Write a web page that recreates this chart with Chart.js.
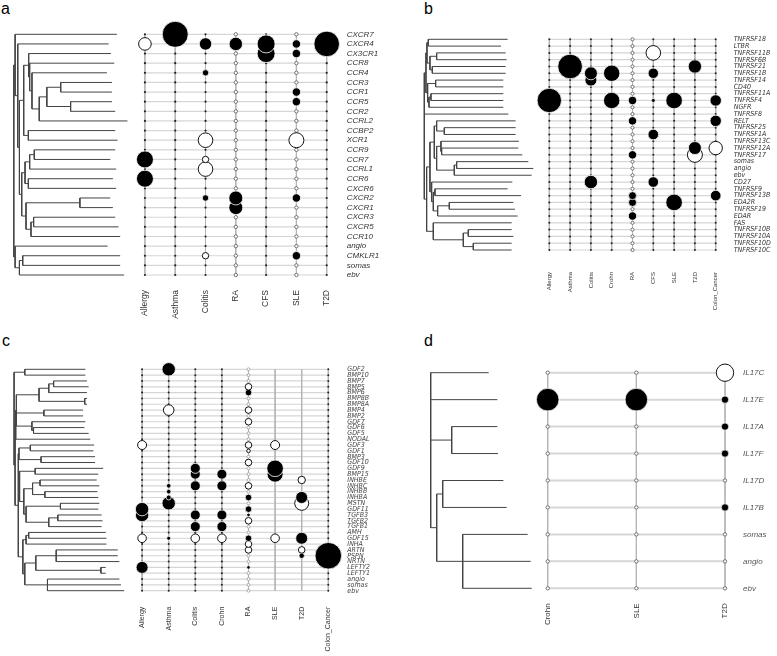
<!DOCTYPE html>
<html>
<head>
<meta charset="utf-8">
<script src="https://cdn.jsdelivr.net/npm/chart.js@4.4.0/dist/chart.umd.min.js"></script>
<style>
  body { margin: 0; background: #fff; width: 777px; height: 656px; position: relative; overflow: hidden; font-family: "Liberation Sans", Arial, sans-serif; }
  .panel { position: absolute; }
  .tag { position: absolute; font-size: 16px; line-height: 16px; color: #000; }
</style>
</head>
<body>
<div class="tag" style="left:1px;top:1px">a</div>
<div class="tag" style="left:424px;top:1px">b</div>
<div class="tag" style="left:2px;top:333px">c</div>
<div class="tag" style="left:424px;top:333px">d</div>
<div class="panel" style="left:0;top:0"><canvas id="pa" width="388" height="328"></canvas></div>
<div class="panel" style="left:388px;top:0"><canvas id="pb" width="389" height="328"></canvas></div>
<div class="panel" style="left:0;top:328px"><canvas id="pc" width="388" height="328"></canvas></div>
<div class="panel" style="left:388px;top:328px"><canvas id="pd" width="389" height="328"></canvas></div>
<script>
// ---- panel a: chemokine receptors
const colsA = ['Allergy','Asthma','Colitis','RA','CFS','SLE','T2D'];
const rowsA = ['CXCR7','CXCR4','CX3CR1','CCR8','CCR4','CCR3','CCR1','CCR5','CCR2','CCRL2','CCBP2','XCR1','CCR9','CCR7','CCRL1','CCR6','CXCR6','CXCR2','CXCR1','CXCR3','CXCR5','CCR10','angio','CMKLR1','somas','ebv'];
const baseA = ['dot','dot','dot','ring','dot','ring','dot'];
const sigA = [
  ['CXCR7','Asthma',13],
  ['CXCR4','Allergy',-6.3],['CXCR4','Colitis',6.2],['CXCR4','RA',6.7],['CXCR4','CFS',9],['CXCR4','SLE',4.2],['CXCR4','T2D',12.8],
  ['CX3CR1','CFS',9],['CX3CR1','SLE',4.2],
  ['CCR4','Colitis',3.2],
  ['CCR1','SLE',4.2],['CCR5','SLE',4.2],
  ['XCR1','Colitis',-7.3],['XCR1','SLE',-7.5],
  ['CCR7','Allergy',8.5],['CCR7','Colitis',-3.2],
  ['CCRL1','Colitis',-7.3],
  ['CCR6','Allergy',8.5],
  ['CXCR2','Colitis',3.2],['CXCR2','RA',7],['CXCR2','SLE',4.2],
  ['CXCR1','RA',7],
  ['CMKLR1','Colitis',-3.2],['CMKLR1','SLE',4.2]
];
// tree: [height, children...], leaves are tip heights in row order
const treeA = [18,
  [22, 330, [30, 305, [35,
    [48, [63, 312, [66, 322, [73, 300, [95, [118, [160, 315, 315], [190, 315, 325]], 362]]]], [62, 325, 332]],
    [42, [52, [66, [80, 325, 310], 328], [62, 318, 328]], [55, [218, 310, 318], [70, [78, 325, 335], 340]]]]]],
  [22, 302, [35, [45, 340, 340], 352]]];

// ---- panel b: TNF receptors
const colsB = ['Allergy','Asthma','Colitis','Crohn','RA','CFS','SLE','T2D','Colon_Cancer'];
const rowsB = ['TNFRSF18','LTBR','TNFRSF11B','TNFRSF6B','TNFRSF21','TNFRSF1B','TNFRSF14','CD40','TNFRSF11A','TNFRSF4','NGFR','TNFRSF8','RELT','TNFRSF25','TNFRSF1A','TNFRSF13C','TNFRSF12A','TNFRSF17','somas','angio','ebv','CD27','TNFRSF9','TNFRSF13B','EDA2R','TNFRSF19','EDAR','FAS','TNFRSF10B','TNFRSF10A','TNFRSF10D','TNFRSF10C'];
const baseB = ['dot','dot','dot','dot','ring','dot','dot','dot','dot'];
const sigB = [
  ['TNFRSF11B','CFS',-7.3],
  ['TNFRSF21','Asthma',12.3],['TNFRSF21','T2D',6.7],
  ['TNFRSF1B','Colitis',6.5],['TNFRSF1B','Crohn',8.2],['TNFRSF1B','CFS',5.2],
  ['TNFRSF14','Colitis',6],
  ['TNFRSF4','Allergy',12.2],['TNFRSF4','Crohn',8.2],['TNFRSF4','RA',4.2],['TNFRSF4','CFS',2],['TNFRSF4','SLE',8.3],['TNFRSF4','Colon_Cancer',5.7],
  ['RELT','RA',4.2],['RELT','Colon_Cancer',5.7],
  ['TNFRSF1A','CFS',5.3],
  ['TNFRSF12A','T2D',6.5],['TNFRSF12A','Colon_Cancer',-6.7],
  ['TNFRSF17','T2D',-7.5],['TNFRSF17','RA',4.2],
  ['CD27','Colitis',6.7],['CD27','CFS',5.3],
  ['TNFRSF13B','RA',4],['TNFRSF13B','Colon_Cancer',5.3],
  ['EDA2R','RA',4],['EDA2R','SLE',8.3],
  ['EDAR','RA',4.2]
];
const treeB = [28,
  [33, [36, [40, 278, 258], [45, [65, 272, 275], [52, 272, 272]]], [38, [62, 265, 265], [42, [48, 265, 265], 265]]],
  280,
  [35,
    [45,
      [58, [65, 302, [88, 302, 302]], [65, [78, 312, [80, 310, 322]], [118, [125, 340, 355], 350]]],
      [50, 292, [55, [60, 278, 318], [68, [103, 295, 300], 308]]]],
    [55, 290, [145, [160, 290, 295], [175, 290, 290]]]]];

// ---- panel c: TGF-beta family
const colsC = ['Allergy','Asthma','Colitis','Crohn','RA','SLE','T2D','Colon_Cancer'];
const rowsC = ['GDF2','BMP10','BMP7','BMP5','BMP6','BMP8B','BMP8A','BMP4','BMP2','GDF7','GDF6','GDF5','NODAL','GDF3','GDF1','BMP3','GDF10','GDF9','BMP15','INHBE','INHBC','INHBB','INHBA','MSTN','GDF11','TGFB3','TGFB2','TGFB1','AMH','GDF15','INHA','ARTN','PSPN','NRTN','LEFTY2','LEFTY1','angio','somas','ebv'];
const baseC = ['dot','dot','dot','dot','ring','none','none','dot'];
const sigC = [
  ['GDF2','Asthma',6.7],
  ['BMP5','RA',-3.3],['BMP6','RA',3.3],
  ['BMP4','Asthma',-5.3],['BMP4','RA',-3.3],
  ['GDF7','RA',-3.3],
  ['GDF3','Allergy',-4.5],['GDF3','RA',-3.3],['GDF3','SLE',-4.5],
  ['GDF1','RA',-1.8],
  ['GDF10','RA',-3.3],
  ['GDF9','Colitis',5],['GDF9','SLE',8.3],
  ['BMP15','Colitis',5],['BMP15','Crohn',5],['BMP15','SLE',8],
  ['INHBE','T2D',-3.7],
  ['INHBC','Colitis',5],['INHBC','Crohn',5],['INHBC','Asthma',2.3],['INHBC','RA',-3.3],
  ['INHBB','Asthma',2.3],
  ['INHBA','Asthma',2.5],['INHBA','RA',3.3],['INHBA','T2D',6],
  ['MSTN','Asthma',6.7],['MSTN','T2D',-7],
  ['GDF11','Allergy',6.7],['GDF11','RA',3.3],
  ['TGFB3','Allergy',6.7],['TGFB3','RA',1.8],['TGFB3','Colitis',5],['TGFB3','Crohn',5],
  ['TGFB2','RA',-3.3],
  ['TGFB1','Colitis',5],['TGFB1','Crohn',5],
  ['GDF15','Allergy',-4.3],['GDF15','Asthma',2],['GDF15','Colitis',-4.3],['GDF15','Crohn',-4.3],['GDF15','RA',3.3],['GDF15','SLE',-4.3],['GDF15','T2D',6],
  ['INHA','RA',-3.3],
  ['ARTN','RA',-3.3],['ARTN','T2D',-3.3],
  ['PSPN','T2D',2.7],['PSPN','Colon_Cancer',13.3],
  ['LEFTY2','Allergy',6],['LEFTY2','RA',1.8]
];
const treeC = [15,
  [48, 235, 235],
  [18,
    [20, [22, [92, [122, [137, 240, 245], 240], [233, 240, 240]], [107, 228, 228], [70, 235, [75, 232, 245]]], 250],
    [28,
      [30, [65, 262, 260], [98, 265, 265]],
      [32, [80, 290, 275], [45, [72, [95, 270, 278], [110, 272, 275]], [52, [158, 278, 275], [122, [150, 285, 288], 285]]]],
      [42, [52, [60, 298, 300], 300], [48, [82, [145, 335, 335, 340], [283, 298, 298]], [118, 340, 345, 355]]]]]];

// ---- panel d: IL17 family
const colsD = ['Crohn','SLE','T2D'];
const rowsD = ['IL17C','IL17E','IL17A','IL17F','IL17D','IL17B','somas','angio','ebv'];
const baseD = ['ring','ring','ring'];
const sigD = [
  ['IL17C','T2D',-8.7],
  ['IL17E','Crohn',11.3],['IL17E','SLE',11.3],['IL17E','T2D',3.7],
  ['IL17A','T2D',3.7],['IL17F','T2D',3.7],['IL17B','T2D',3.7]
];
const treeD = [122, 296, 322, [185, 322, 324], [140, [158, 340, 350], [218, 413, 422, 425]]];

const sans = '"Liberation Sans", Arial, sans-serif';
const narrow = '"Liberation Sans Narrow", "Arial Narrow", "DejaVu Sans Condensed", "Liberation Sans", sans-serif';

function treeSegs(node, state, segs) {
  if (typeof node === 'number') {
    return { x: node, y: state.leaf++ };
  }
  const h = node[0];
  const kids = node.slice(1).map(k => treeSegs(k, state, segs));
  kids.forEach(k => segs.push({x: h, y: k.y}, {x: k.x, y: k.y}, {x: h, y: null}));
  const y0 = kids[0].y, y1 = kids[kids.length - 1].y;
  segs.push({x: h, y: y0}, {x: h, y: y1}, {x: h, y: null});
  return { x: h, y: (y0 + y1) / 2 };
}

function buildPanel(id, rows, cols, base, sig, tree, lay) {
  const canvas = document.getElementById(id);
  const W = canvas.width, H = canvas.height;
  const nR = rows.length, nC = cols.length;
  const step = (lay.R - lay.col0) / (nC - 1);
  const xmin = -(lay.col0 - lay.L) / step;

  const taken = new Set(sig.map(s => rows.indexOf(s[0]) + ':' + cols.indexOf(s[1])));
  const big = sig.map(s => ({ x: cols.indexOf(s[1]), y: rows.indexOf(s[0]), r: Math.abs(s[2]), v: s[2] }))
    .sort((p, q) => q.y - p.y);
  const dots = [], rings = [];
  rows.forEach((_, r) => cols.forEach((_, c) => {
    if (taken.has(r + ':' + c)) return;
    if (base[c] === 'dot') dots.push({ x: c, y: r, r: lay.dot });
    else if (base[c] === 'ring') rings.push({ x: c, y: r, r: lay.ring });
  }));

  const hLines = [], vLines = [];
  rows.forEach((_, r) => hLines.push({x: 0, y: r}, {x: nC - 1, y: r}, {x: 0, y: null}));
  cols.forEach((_, c) => vLines.push({x: c, y: 0}, {x: c, y: nR - 1}, {x: c, y: null}));

  const segs = [];
  treeSegs(tree, { leaf: 0 }, segs);
  const root = tree[0];

  new Chart(canvas, {
    type: 'bubble',
    data: {
      datasets: [
        { data: big, clip: false,
          backgroundColor: big.map(p => p.v > 0 ? '#000' : '#fff'),
          borderColor: big.map(p => p.v > 0 ? '#fff' : '#111'),
          borderWidth: big.map(p => p.v > 0 ? 0.8 : 1) },
        { data: dots, clip: false, backgroundColor: '#222', borderWidth: 0 },
        { data: rings, clip: false, backgroundColor: '#fff', borderColor: lay.ringColor, borderWidth: 0.8 },
        { type: 'line', data: segs, xAxisID: 'xd', clip: false, borderColor: '#444', borderWidth: 1,
          pointRadius: 0, fill: false, tension: 0, spanGaps: false },
        { type: 'line', data: vLines, clip: false, borderColor: '#b5b5b5', borderWidth: 1,
          pointRadius: 0, fill: false, spanGaps: false },
        { type: 'line', data: hLines, clip: false, borderColor: '#d6d6d6', borderWidth: lay.hw,
          pointRadius: 0, fill: false, spanGaps: false }
      ]
    },
    options: {
      responsive: false,
      animation: false,
      events: [],
      layout: { padding: { left: lay.L, top: lay.T, right: 0, bottom: 0 } },
      plugins: { legend: { display: false }, tooltip: { enabled: false } },
      scales: {
        x: {
          type: 'linear', min: xmin, max: nC - 1,
          afterBuildTicks: ax => { ax.ticks = cols.map((_, i) => ({ value: i })); },
          afterFit: ax => { ax.height = H - lay.B; },
          grid: { display: false, drawTicks: false }, border: { display: false },
          ticks: { autoSkip: false, minRotation: 90, maxRotation: 90, padding: lay.xpad, color: '#333',
                   font: { family: lay.xfont, size: lay.xsize }, callback: v => cols[v] }
        },
        xd: { type: 'linear', display: false, min: root, max: root + 3 * (lay.R - lay.L) },
        y: {
          type: 'linear', position: 'right', reverse: true, min: 0, max: nR - 1,
          afterBuildTicks: ax => { ax.ticks = rows.map((_, i) => ({ value: i })); },
          afterFit: ax => { ax.width = W - lay.R; },
          grid: { display: false, drawTicks: false }, border: { display: false },
          ticks: { autoSkip: false, padding: lay.ypad, color: lay.ycolor,
                   font: { family: lay.yfont, size: lay.ysize, style: 'italic' }, callback: v => rows[v] }
        }
      }
    }
  });
}

buildPanel('pa', rowsA, colsA, baseA, sigA, treeA,
  { L: 11, T: 34.3, R: 326.7, B: 275, col0: 143.3, xpad: 15, ypad: 20, dot: 1.1, ring: 1.7, ringColor: '#555', hw: 1.2,
    xfont: sans, xsize: 8.5, yfont: sans, ysize: 8, ycolor: '#333' });
buildPanel('pb', rowsB, colsB, baseB, sigB, treeB,
  { L: 36.3, T: 39.3, R: 327.7, B: 250, col0: 161.3, xpad: 22, ypad: 18, dot: 1, ring: 1.6, ringColor: '#555', hw: 1.2,
    xfont: sans, xsize: 6, yfont: narrow, ysize: 7, ycolor: '#333' });
buildPanel('pc', rowsC, colsC, baseC, sigC, treeC,
  { L: 5, T: 41.3, R: 328.3, B: 262.7, col0: 136.7, xpad: 16, ypad: 19, dot: 1, ring: 1.5, ringColor: '#999', hw: 1.2,
    xfont: sans, xsize: 7, yfont: narrow, ysize: 7, ycolor: '#444' });
buildPanel('pd', rowsD, colsD, baseD, sigD, treeD,
  { L: 42.7, T: 44.7, R: 337, B: 260.3, col0: 159.7, xpad: 15, ypad: 18, dot: 1, ring: 1.7, ringColor: '#555', hw: 2,
    xfont: sans, xsize: 8, yfont: sans, ysize: 8, ycolor: '#555' });
</script>
</body>
</html>
